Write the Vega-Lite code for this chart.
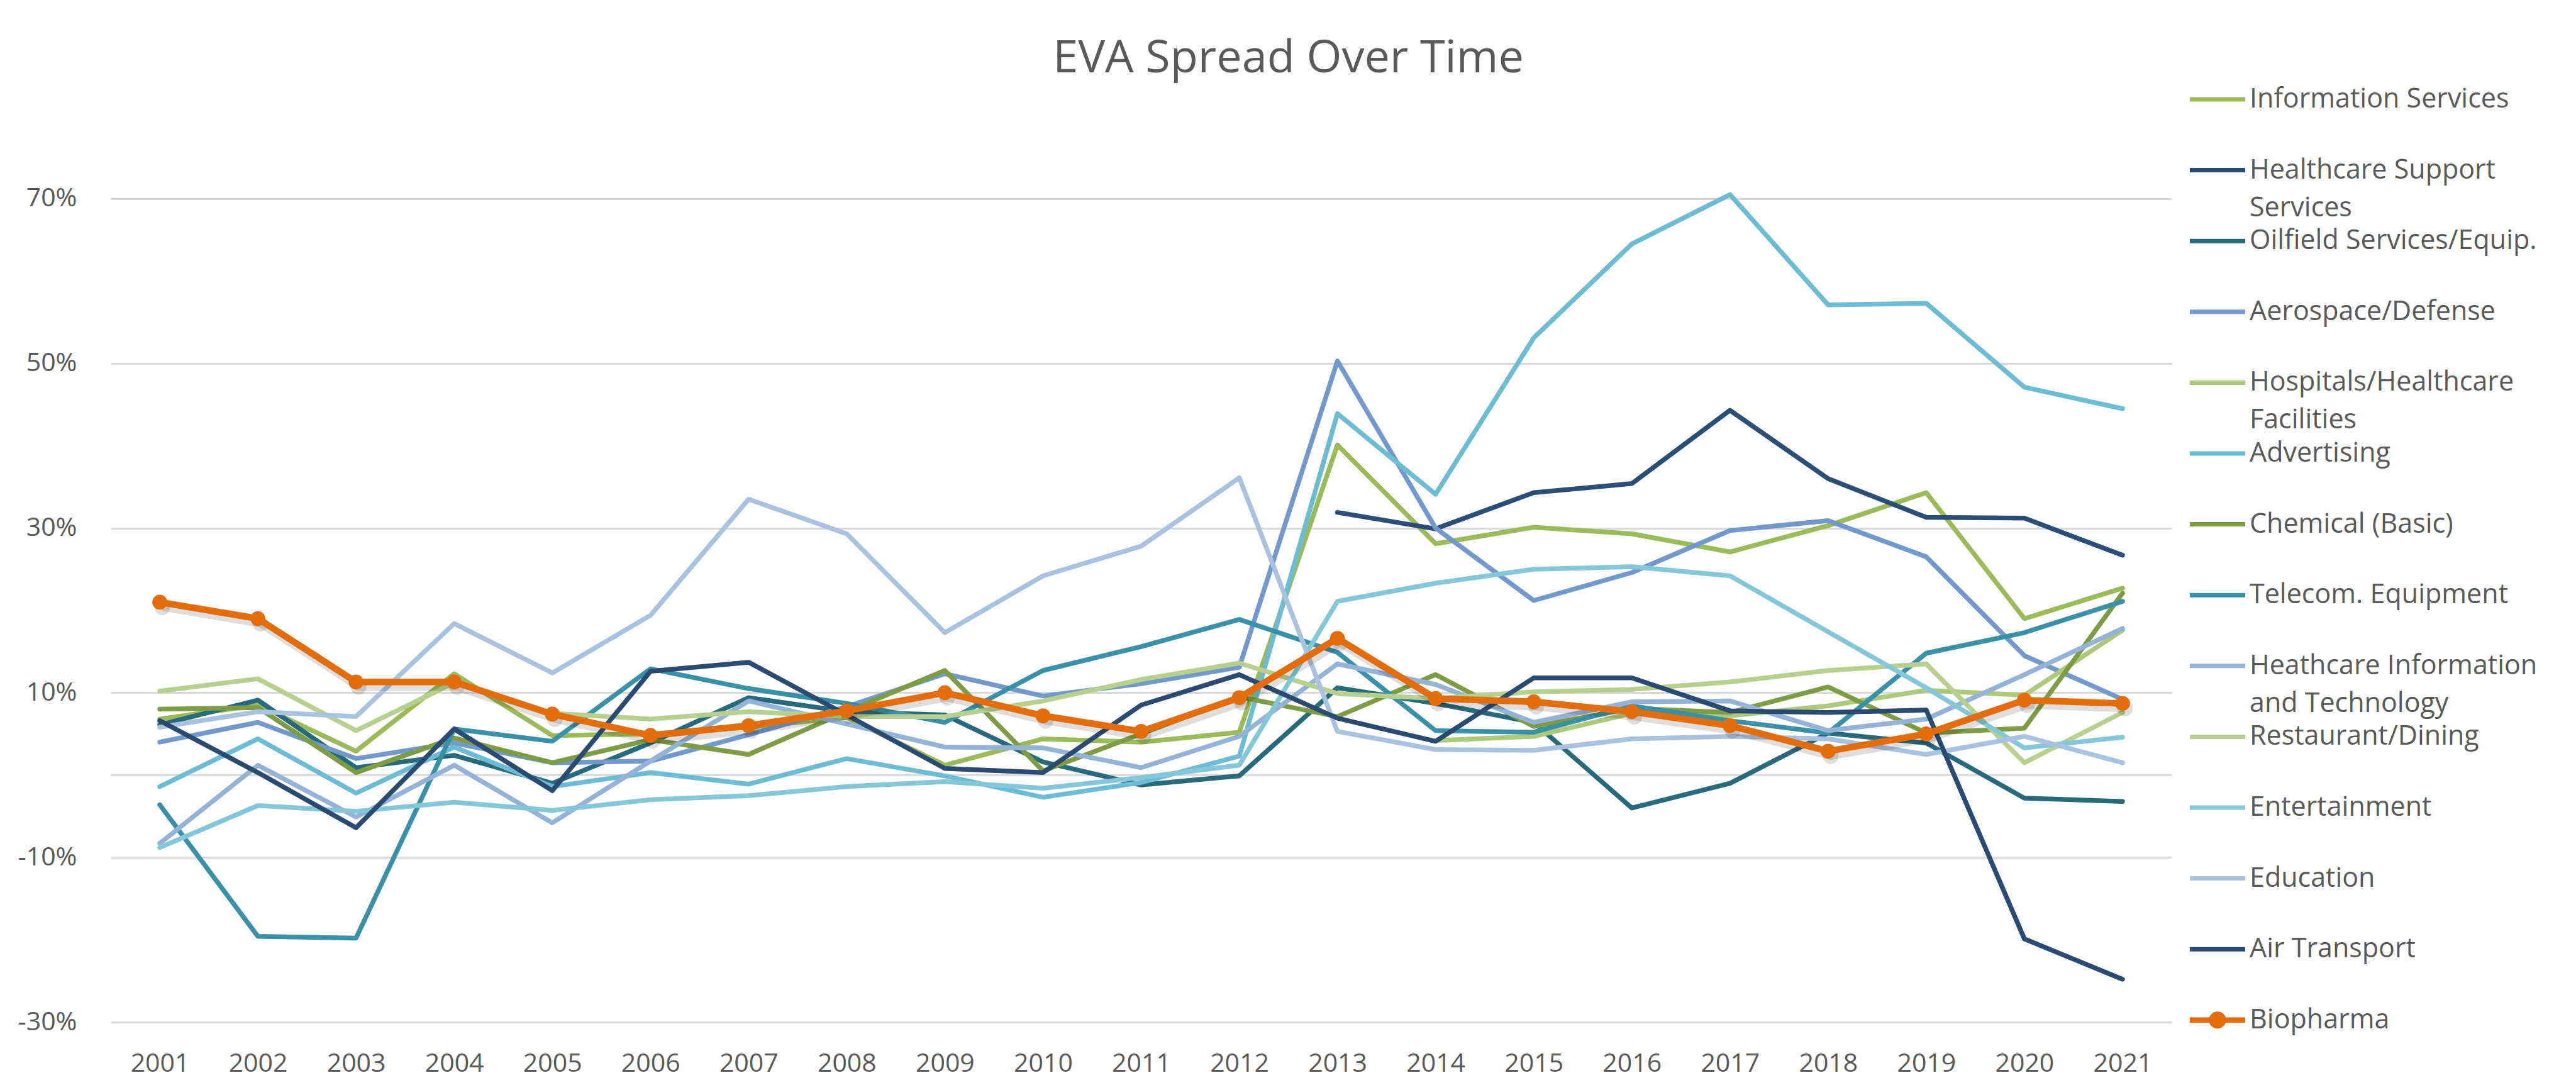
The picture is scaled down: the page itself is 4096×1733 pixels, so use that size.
{
  "$schema": "https://vega.github.io/schema/vega-lite/v6.json",
  "width": 3277,
  "height": 1440,
  "autosize": {"type": "none"},
  "padding": {"left": 176, "top": 185, "right": 643, "bottom": 108},
  "background": "white",
  "title": {"text": "EVA Spread Over Time", "anchor": "middle", "frame": "group", "dx": 234, "offset": -51, "baseline": "alphabetic", "fontSize": 72, "font": "Open Sans", "fontWeight": "normal", "color": "#595959"},
  "config": {"view": {"stroke": null}, "font": "Open Sans", "style": {"guide-label": {"lineHeight": 60}}},
  "resolve": {"legend": {"color": "independent", "shape": "independent"}},
  "data": {"name": "eva"},
  "datasets": {
    "eva": [
      {"s":"Information Services","yr":"2001","v":6.8},{"s":"Information Services","yr":"2002","v":8.5},{"s":"Information Services","yr":"2003","v":2.9},{"s":"Information Services","yr":"2004","v":12.3},{"s":"Information Services","yr":"2005","v":4.8},{"s":"Information Services","yr":"2006","v":5.0},{"s":"Information Services","yr":"2007","v":5.8},{"s":"Information Services","yr":"2008","v":7.0},{"s":"Information Services","yr":"2009","v":1.2},{"s":"Information Services","yr":"2010","v":4.4},{"s":"Information Services","yr":"2011","v":4.0},{"s":"Information Services","yr":"2012","v":5.2},{"s":"Information Services","yr":"2013","v":40.1},{"s":"Information Services","yr":"2014","v":28.1},{"s":"Information Services","yr":"2015","v":30.1},{"s":"Information Services","yr":"2016","v":29.3},{"s":"Information Services","yr":"2017","v":27.1},{"s":"Information Services","yr":"2018","v":30.3},{"s":"Information Services","yr":"2019","v":34.3},{"s":"Information Services","yr":"2020","v":19.0},{"s":"Information Services","yr":"2021","v":22.7},
      {"s":"Healthcare Support Services","yr":"2013","v":31.9},{"s":"Healthcare Support Services","yr":"2014","v":29.9},{"s":"Healthcare Support Services","yr":"2015","v":34.3},{"s":"Healthcare Support Services","yr":"2016","v":35.4},{"s":"Healthcare Support Services","yr":"2017","v":44.3},{"s":"Healthcare Support Services","yr":"2018","v":36.0},{"s":"Healthcare Support Services","yr":"2019","v":31.3},{"s":"Healthcare Support Services","yr":"2020","v":31.2},{"s":"Healthcare Support Services","yr":"2021","v":26.7},
      {"s":"Oilfield Services/Equip.","yr":"2001","v":6.1},{"s":"Oilfield Services/Equip.","yr":"2002","v":9.1},{"s":"Oilfield Services/Equip.","yr":"2003","v":0.9},{"s":"Oilfield Services/Equip.","yr":"2004","v":2.4},{"s":"Oilfield Services/Equip.","yr":"2005","v":-1.0},{"s":"Oilfield Services/Equip.","yr":"2006","v":3.9},{"s":"Oilfield Services/Equip.","yr":"2007","v":9.4},{"s":"Oilfield Services/Equip.","yr":"2008","v":7.7},{"s":"Oilfield Services/Equip.","yr":"2009","v":7.3},{"s":"Oilfield Services/Equip.","yr":"2010","v":1.6},{"s":"Oilfield Services/Equip.","yr":"2011","v":-1.2},{"s":"Oilfield Services/Equip.","yr":"2012","v":-0.1},{"s":"Oilfield Services/Equip.","yr":"2013","v":10.6},{"s":"Oilfield Services/Equip.","yr":"2014","v":8.7},{"s":"Oilfield Services/Equip.","yr":"2015","v":6.4},{"s":"Oilfield Services/Equip.","yr":"2016","v":-4.0},{"s":"Oilfield Services/Equip.","yr":"2017","v":-1.0},{"s":"Oilfield Services/Equip.","yr":"2018","v":5.1},{"s":"Oilfield Services/Equip.","yr":"2019","v":3.9},{"s":"Oilfield Services/Equip.","yr":"2020","v":-2.8},{"s":"Oilfield Services/Equip.","yr":"2021","v":-3.2},
      {"s":"Aerospace/Defense","yr":"2001","v":4.0},{"s":"Aerospace/Defense","yr":"2002","v":6.4},{"s":"Aerospace/Defense","yr":"2003","v":2.0},{"s":"Aerospace/Defense","yr":"2004","v":3.9},{"s":"Aerospace/Defense","yr":"2005","v":1.5},{"s":"Aerospace/Defense","yr":"2006","v":1.7},{"s":"Aerospace/Defense","yr":"2007","v":4.9},{"s":"Aerospace/Defense","yr":"2008","v":8.3},{"s":"Aerospace/Defense","yr":"2009","v":12.3},{"s":"Aerospace/Defense","yr":"2010","v":9.6},{"s":"Aerospace/Defense","yr":"2011","v":11.1},{"s":"Aerospace/Defense","yr":"2012","v":13.1},{"s":"Aerospace/Defense","yr":"2013","v":50.3},{"s":"Aerospace/Defense","yr":"2014","v":30.0},{"s":"Aerospace/Defense","yr":"2015","v":21.2},{"s":"Aerospace/Defense","yr":"2016","v":24.6},{"s":"Aerospace/Defense","yr":"2017","v":29.7},{"s":"Aerospace/Defense","yr":"2018","v":30.9},{"s":"Aerospace/Defense","yr":"2019","v":26.5},{"s":"Aerospace/Defense","yr":"2020","v":14.5},{"s":"Aerospace/Defense","yr":"2021","v":9.2},
      {"s":"Hospitals/Healthcare Facilities","yr":"2014","v":4.2},{"s":"Hospitals/Healthcare Facilities","yr":"2015","v":4.7},{"s":"Hospitals/Healthcare Facilities","yr":"2016","v":7.5},{"s":"Hospitals/Healthcare Facilities","yr":"2017","v":7.2},{"s":"Hospitals/Healthcare Facilities","yr":"2018","v":8.4},{"s":"Hospitals/Healthcare Facilities","yr":"2019","v":10.3},{"s":"Hospitals/Healthcare Facilities","yr":"2020","v":9.7},{"s":"Hospitals/Healthcare Facilities","yr":"2021","v":17.6},
      {"s":"Advertising","yr":"2001","v":-1.4},{"s":"Advertising","yr":"2002","v":4.4},{"s":"Advertising","yr":"2003","v":-2.2},{"s":"Advertising","yr":"2004","v":3.4},{"s":"Advertising","yr":"2005","v":-1.4},{"s":"Advertising","yr":"2006","v":0.3},{"s":"Advertising","yr":"2007","v":-1.1},{"s":"Advertising","yr":"2008","v":2.0},{"s":"Advertising","yr":"2009","v":-0.1},{"s":"Advertising","yr":"2010","v":-2.7},{"s":"Advertising","yr":"2011","v":-0.9},{"s":"Advertising","yr":"2012","v":2.3},{"s":"Advertising","yr":"2013","v":43.9},{"s":"Advertising","yr":"2014","v":34.1},{"s":"Advertising","yr":"2015","v":53.1},{"s":"Advertising","yr":"2016","v":64.5},{"s":"Advertising","yr":"2017","v":70.5},{"s":"Advertising","yr":"2018","v":57.1},{"s":"Advertising","yr":"2019","v":57.3},{"s":"Advertising","yr":"2020","v":47.1},{"s":"Advertising","yr":"2021","v":44.5},
      {"s":"Chemical (Basic)","yr":"2001","v":8.0},{"s":"Chemical (Basic)","yr":"2002","v":8.2},{"s":"Chemical (Basic)","yr":"2003","v":0.3},{"s":"Chemical (Basic)","yr":"2004","v":4.5},{"s":"Chemical (Basic)","yr":"2005","v":1.5},{"s":"Chemical (Basic)","yr":"2006","v":4.3},{"s":"Chemical (Basic)","yr":"2007","v":2.5},{"s":"Chemical (Basic)","yr":"2008","v":7.7},{"s":"Chemical (Basic)","yr":"2009","v":12.7},{"s":"Chemical (Basic)","yr":"2010","v":0.5},{"s":"Chemical (Basic)","yr":"2011","v":5.0},{"s":"Chemical (Basic)","yr":"2012","v":9.5},{"s":"Chemical (Basic)","yr":"2013","v":7.1},{"s":"Chemical (Basic)","yr":"2014","v":12.2},{"s":"Chemical (Basic)","yr":"2015","v":5.9},{"s":"Chemical (Basic)","yr":"2016","v":8.1},{"s":"Chemical (Basic)","yr":"2017","v":7.6},{"s":"Chemical (Basic)","yr":"2018","v":10.7},{"s":"Chemical (Basic)","yr":"2019","v":5.1},{"s":"Chemical (Basic)","yr":"2020","v":5.7},{"s":"Chemical (Basic)","yr":"2021","v":22.1},
      {"s":"Telecom. Equipment","yr":"2001","v":-3.6},{"s":"Telecom. Equipment","yr":"2002","v":-19.6},{"s":"Telecom. Equipment","yr":"2003","v":-19.8},{"s":"Telecom. Equipment","yr":"2004","v":5.6},{"s":"Telecom. Equipment","yr":"2005","v":4.1},{"s":"Telecom. Equipment","yr":"2006","v":12.9},{"s":"Telecom. Equipment","yr":"2007","v":10.5},{"s":"Telecom. Equipment","yr":"2008","v":8.7},{"s":"Telecom. Equipment","yr":"2009","v":6.4},{"s":"Telecom. Equipment","yr":"2010","v":12.7},{"s":"Telecom. Equipment","yr":"2011","v":15.6},{"s":"Telecom. Equipment","yr":"2012","v":18.9},{"s":"Telecom. Equipment","yr":"2013","v":14.9},{"s":"Telecom. Equipment","yr":"2014","v":5.4},{"s":"Telecom. Equipment","yr":"2015","v":5.2},{"s":"Telecom. Equipment","yr":"2016","v":8.4},{"s":"Telecom. Equipment","yr":"2017","v":6.6},{"s":"Telecom. Equipment","yr":"2018","v":5.1},{"s":"Telecom. Equipment","yr":"2019","v":14.8},{"s":"Telecom. Equipment","yr":"2020","v":17.3},{"s":"Telecom. Equipment","yr":"2021","v":21.1},
      {"s":"Heathcare Information and Technology","yr":"2001","v":-8.3},{"s":"Heathcare Information and Technology","yr":"2002","v":1.2},{"s":"Heathcare Information and Technology","yr":"2003","v":-5.1},{"s":"Heathcare Information and Technology","yr":"2004","v":1.2},{"s":"Heathcare Information and Technology","yr":"2005","v":-5.8},{"s":"Heathcare Information and Technology","yr":"2006","v":1.7},{"s":"Heathcare Information and Technology","yr":"2007","v":9.0},{"s":"Heathcare Information and Technology","yr":"2008","v":6.2},{"s":"Heathcare Information and Technology","yr":"2009","v":3.4},{"s":"Heathcare Information and Technology","yr":"2010","v":3.3},{"s":"Heathcare Information and Technology","yr":"2011","v":0.9},{"s":"Heathcare Information and Technology","yr":"2012","v":4.7},{"s":"Heathcare Information and Technology","yr":"2013","v":13.5},{"s":"Heathcare Information and Technology","yr":"2014","v":11.0},{"s":"Heathcare Information and Technology","yr":"2015","v":6.4},{"s":"Heathcare Information and Technology","yr":"2016","v":8.9},{"s":"Heathcare Information and Technology","yr":"2017","v":9.0},{"s":"Heathcare Information and Technology","yr":"2018","v":5.4},{"s":"Heathcare Information and Technology","yr":"2019","v":6.8},{"s":"Heathcare Information and Technology","yr":"2020","v":12.2},{"s":"Heathcare Information and Technology","yr":"2021","v":17.8},
      {"s":"Restaurant/Dining","yr":"2001","v":10.2},{"s":"Restaurant/Dining","yr":"2002","v":11.7},{"s":"Restaurant/Dining","yr":"2003","v":5.4},{"s":"Restaurant/Dining","yr":"2004","v":11.2},{"s":"Restaurant/Dining","yr":"2005","v":7.5},{"s":"Restaurant/Dining","yr":"2006","v":6.8},{"s":"Restaurant/Dining","yr":"2007","v":7.7},{"s":"Restaurant/Dining","yr":"2008","v":7.1},{"s":"Restaurant/Dining","yr":"2009","v":7.1},{"s":"Restaurant/Dining","yr":"2010","v":9.0},{"s":"Restaurant/Dining","yr":"2011","v":11.6},{"s":"Restaurant/Dining","yr":"2012","v":13.6},{"s":"Restaurant/Dining","yr":"2013","v":9.9},{"s":"Restaurant/Dining","yr":"2014","v":9.3},{"s":"Restaurant/Dining","yr":"2015","v":10.1},{"s":"Restaurant/Dining","yr":"2016","v":10.4},{"s":"Restaurant/Dining","yr":"2017","v":11.3},{"s":"Restaurant/Dining","yr":"2018","v":12.7},{"s":"Restaurant/Dining","yr":"2019","v":13.5},{"s":"Restaurant/Dining","yr":"2020","v":1.5},{"s":"Restaurant/Dining","yr":"2021","v":7.6},
      {"s":"Entertainment","yr":"2001","v":-8.8},{"s":"Entertainment","yr":"2002","v":-3.7},{"s":"Entertainment","yr":"2003","v":-4.4},{"s":"Entertainment","yr":"2004","v":-3.3},{"s":"Entertainment","yr":"2005","v":-4.3},{"s":"Entertainment","yr":"2006","v":-3.0},{"s":"Entertainment","yr":"2007","v":-2.5},{"s":"Entertainment","yr":"2008","v":-1.4},{"s":"Entertainment","yr":"2009","v":-0.8},{"s":"Entertainment","yr":"2010","v":-1.6},{"s":"Entertainment","yr":"2011","v":-0.3},{"s":"Entertainment","yr":"2012","v":1.2},{"s":"Entertainment","yr":"2013","v":21.1},{"s":"Entertainment","yr":"2014","v":23.3},{"s":"Entertainment","yr":"2015","v":25.0},{"s":"Entertainment","yr":"2016","v":25.3},{"s":"Entertainment","yr":"2017","v":24.2},{"s":"Entertainment","yr":"2018","v":17.4},{"s":"Entertainment","yr":"2019","v":10.6},{"s":"Entertainment","yr":"2020","v":3.3},{"s":"Entertainment","yr":"2021","v":4.6},
      {"s":"Education","yr":"2001","v":5.8},{"s":"Education","yr":"2002","v":7.7},{"s":"Education","yr":"2003","v":7.1},{"s":"Education","yr":"2004","v":18.4},{"s":"Education","yr":"2005","v":12.4},{"s":"Education","yr":"2006","v":19.4},{"s":"Education","yr":"2007","v":33.5},{"s":"Education","yr":"2008","v":29.3},{"s":"Education","yr":"2009","v":17.3},{"s":"Education","yr":"2010","v":24.2},{"s":"Education","yr":"2011","v":27.8},{"s":"Education","yr":"2012","v":36.1},{"s":"Education","yr":"2013","v":5.3},{"s":"Education","yr":"2014","v":3.1},{"s":"Education","yr":"2015","v":3.0},{"s":"Education","yr":"2016","v":4.4},{"s":"Education","yr":"2017","v":4.7},{"s":"Education","yr":"2018","v":4.4},{"s":"Education","yr":"2019","v":2.5},{"s":"Education","yr":"2020","v":4.7},{"s":"Education","yr":"2021","v":1.5},
      {"s":"Air Transport","yr":"2001","v":6.6},{"s":"Air Transport","yr":"2002","v":0.3},{"s":"Air Transport","yr":"2003","v":-6.4},{"s":"Air Transport","yr":"2004","v":5.6},{"s":"Air Transport","yr":"2005","v":-1.9},{"s":"Air Transport","yr":"2006","v":12.6},{"s":"Air Transport","yr":"2007","v":13.7},{"s":"Air Transport","yr":"2008","v":7.3},{"s":"Air Transport","yr":"2009","v":0.8},{"s":"Air Transport","yr":"2010","v":0.3},{"s":"Air Transport","yr":"2011","v":8.5},{"s":"Air Transport","yr":"2012","v":12.2},{"s":"Air Transport","yr":"2013","v":6.9},{"s":"Air Transport","yr":"2014","v":4.1},{"s":"Air Transport","yr":"2015","v":11.8},{"s":"Air Transport","yr":"2016","v":11.8},{"s":"Air Transport","yr":"2017","v":7.8},{"s":"Air Transport","yr":"2018","v":7.6},{"s":"Air Transport","yr":"2019","v":7.9},{"s":"Air Transport","yr":"2020","v":-19.9},{"s":"Air Transport","yr":"2021","v":-24.8},
      {"s":"Biopharma","yr":"2001","v":21.0},{"s":"Biopharma","yr":"2002","v":19.0},{"s":"Biopharma","yr":"2003","v":11.3},{"s":"Biopharma","yr":"2004","v":11.3},{"s":"Biopharma","yr":"2005","v":7.4},{"s":"Biopharma","yr":"2006","v":4.8},{"s":"Biopharma","yr":"2007","v":6.0},{"s":"Biopharma","yr":"2008","v":7.8},{"s":"Biopharma","yr":"2009","v":10.0},{"s":"Biopharma","yr":"2010","v":7.2},{"s":"Biopharma","yr":"2011","v":5.3},{"s":"Biopharma","yr":"2012","v":9.4},{"s":"Biopharma","yr":"2013","v":16.6},{"s":"Biopharma","yr":"2014","v":9.3},{"s":"Biopharma","yr":"2015","v":8.9},{"s":"Biopharma","yr":"2016","v":7.7},{"s":"Biopharma","yr":"2017","v":6.0},{"s":"Biopharma","yr":"2018","v":2.9},{"s":"Biopharma","yr":"2019","v":5.0},{"s":"Biopharma","yr":"2020","v":9.1},{"s":"Biopharma","yr":"2021","v":8.7}
    ]
  },
  "layer": [
    {
      "data": {"values": [{}]},
      "mark": {"type": "rule", "color": "#D9D9D9", "strokeWidth": 3},
      "encoding": {"y": {"datum": 0, "type": "quantitative"}}
    },
    {
      "transform": [{"filter": "datum.s != 'Biopharma'"}],
      "mark": {"type": "line", "strokeWidth": 7.5, "strokeJoin": "round", "strokeCap": "round"},
      "encoding": {
        "x": {"field": "yr", "type": "ordinal", "scale": {"type": "point", "padding": 0.5}, "axis": {"title": null, "labelAngle": 0, "ticks": false, "domain": false, "grid": false, "labelFontSize": 41, "labelFont": "Open Sans", "labelColor": "#595959", "labelPadding": 46}},
        "y": {"field": "v", "type": "quantitative", "scale": {"domain": [-30, 80], "nice": false, "zero": false}, "axis": {"title": null, "values": [-30, -10, 10, 30, 50, 70], "labelExpr": "datum.value + '%'", "ticks": false, "domain": false, "grid": true, "gridColor": "#D9D9D9", "gridWidth": 3, "labelFontSize": 41, "labelFont": "Open Sans", "labelColor": "#595959", "labelPadding": 54}},
        "color": {"field": "s", "type": "nominal", "legend": null,
          "scale": {"domain": ["Information Services","Healthcare Support Services","Oilfield Services/Equip.","Aerospace/Defense","Hospitals/Healthcare Facilities","Advertising","Chemical (Basic)","Telecom. Equipment","Heathcare Information and Technology","Restaurant/Dining","Entertainment","Education","Air Transport","Biopharma"],
                    "range": ["#9BBB59","#2C4D75","#276A7C","#7299CC","#AFC97A","#6CBDD4","#7E9C44","#3891A7","#95B3D7","#B8D08E","#84C7D8","#A8C2E0","#2A4A71","#E46C0A"]}}
      }
    },
    {
      "transform": [{"filter": "datum.s == 'Biopharma'"}],
      "mark": {"type": "line", "color": "#000000", "opacity": 0.13, "strokeWidth": 12, "strokeJoin": "round", "xOffset": 4, "yOffset": 8},
      "encoding": {"x": {"field": "yr", "type": "ordinal"}, "y": {"field": "v", "type": "quantitative"}}
    },
    {
      "transform": [{"filter": "datum.s == 'Biopharma'"}],
      "mark": {"type": "point", "filled": true, "color": "#000000", "opacity": 0.13, "size": 620, "xOffset": 4, "yOffset": 8},
      "encoding": {"x": {"field": "yr", "type": "ordinal"}, "y": {"field": "v", "type": "quantitative"}}
    },
    {
      "transform": [{"filter": "datum.s == 'Biopharma'"}],
      "mark": {"type": "line", "color": "#E46C0A", "strokeWidth": 10.5, "strokeJoin": "round"},
      "encoding": {"x": {"field": "yr", "type": "ordinal"}, "y": {"field": "v", "type": "quantitative"}}
    },
    {
      "transform": [{"filter": "datum.s == 'Biopharma'"}],
      "mark": {"type": "point", "filled": true, "color": "#E46C0A", "opacity": 1, "size": 560},
      "encoding": {"x": {"field": "yr", "type": "ordinal"}, "y": {"field": "v", "type": "quantitative"}}
    },
    {
      "mark": {"type": "point", "filled": true, "opacity": 0},
      "encoding": {
        "x": {"field": "yr", "type": "ordinal"},
        "y": {"field": "v", "type": "quantitative"},
        "color": {"field": "s", "type": "nominal",
          "scale": {"domain": ["Information Services","Healthcare Support Services","Oilfield Services/Equip.","Aerospace/Defense","Hospitals/Healthcare Facilities","Advertising","Chemical (Basic)","Telecom. Equipment","Heathcare Information and Technology","Restaurant/Dining","Entertainment","Education","Air Transport","Biopharma"],
                    "range": ["#9BBB59","#2C4D75","#276A7C","#7299CC","#AFC97A","#6CBDD4","#7E9C44","#3891A7","#95B3D7","#B8D08E","#84C7D8","#A8C2E0","#2A4A71","#E46C0A"]},
          "legend": {"orient": "none", "legendX": 3328, "legendY": -49, "title": null, "padding": 0, "symbolSize": 1936, "symbolStrokeWidth": 0, "symbolOpacity": 1, "labelFontSize": 43, "labelFont": "Open Sans", "labelColor": "#595959", "labelOffset": 29, "labelLimit": 700, "rowPadding": 8.6, "gridAlign": "all",
            "labelExpr": "datum.label == 'Healthcare Support Services' ? ['Healthcare Support', 'Services'] : datum.label == 'Hospitals/Healthcare Facilities' ? ['Hospitals/Healthcare', 'Facilities'] : datum.label == 'Heathcare Information and Technology' ? ['Heathcare Information', 'and Technology'] : datum.label"}},
        "shape": {"field": "s", "type": "nominal",
          "scale": {"domain": ["Information Services","Healthcare Support Services","Oilfield Services/Equip.","Aerospace/Defense","Hospitals/Healthcare Facilities","Advertising","Chemical (Basic)","Telecom. Equipment","Heathcare Information and Technology","Restaurant/Dining","Entertainment","Education","Air Transport","Biopharma"],
                    "range": ["M-2,-0.16L2,-0.16L2,0.16L-2,0.16Z","M-2,-0.16L2,-0.16L2,0.16L-2,0.16Z","M-2,-0.16L2,-0.16L2,0.16L-2,0.16Z","M-2,-0.16L2,-0.16L2,0.16L-2,0.16Z","M-2,-0.16L2,-0.16L2,0.16L-2,0.16Z","M-2,-0.16L2,-0.16L2,0.16L-2,0.16Z","M-2,-0.16L2,-0.16L2,0.16L-2,0.16Z","M-2,-0.16L2,-0.16L2,0.16L-2,0.16Z","M-2,-0.16L2,-0.16L2,0.16L-2,0.16Z","M-2,-0.16L2,-0.16L2,0.16L-2,0.16Z","M-2,-0.16L2,-0.16L2,0.16L-2,0.16Z","M-2,-0.16L2,-0.16L2,0.16L-2,0.16Z","M-2,-0.16L2,-0.16L2,0.16L-2,0.16Z","M-2,-0.2L2,-0.2L2,0.2L-2,0.2Z M0.62,0A0.62,0.62 0 1,1 -0.62,0A0.62,0.62 0 1,1 0.62,0Z"]},
          "legend": {"orient": "none", "legendX": 3328, "legendY": -49, "title": null, "padding": 0, "symbolSize": 1936, "symbolStrokeWidth": 0, "symbolOpacity": 1, "labelFontSize": 43, "labelFont": "Open Sans", "labelColor": "#595959", "labelOffset": 29, "labelLimit": 700, "rowPadding": 8.6, "gridAlign": "all",
            "labelExpr": "datum.label == 'Healthcare Support Services' ? ['Healthcare Support', 'Services'] : datum.label == 'Hospitals/Healthcare Facilities' ? ['Hospitals/Healthcare', 'Facilities'] : datum.label == 'Heathcare Information and Technology' ? ['Heathcare Information', 'and Technology'] : datum.label"}}
      }
    }
  ]
}
